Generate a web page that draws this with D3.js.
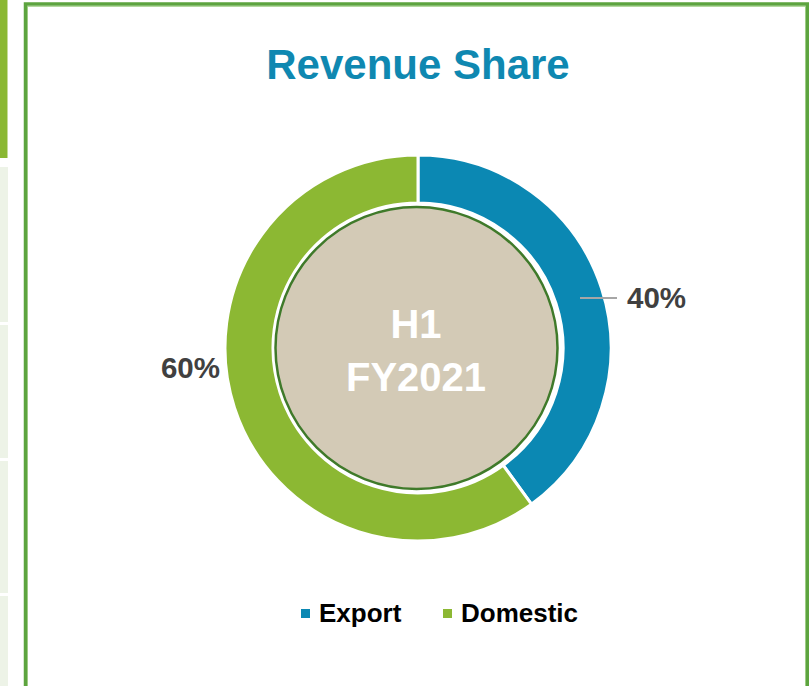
<!DOCTYPE html>
<html>
<head>
<meta charset="utf-8">
<script src="https://cdn.jsdelivr.net/npm/d3@7"></script>
<style>
html,body{margin:0;padding:0;background:#fff;}
svg{display:block;}
text{font-family:"Liberation Sans",Arial,sans-serif;}
</style>
</head>
<body>
<svg id="chart" width="809" height="686"></svg>
<script>
const title = "Revenue Share";
const centerLines = ["H1", "FY2021"];
const categories = ["Export", "Domestic"];
const values = [40, 60];
const labels = ["40%", "60%"];
const colors = ["#0b88b3", "#8cb833"];

const svg = d3.select("#chart");

// left neighbouring panel fragments
svg.append("rect").attr("x",0).attr("y",0).attr("width",8).attr("height",158).attr("fill","#8ab833");
svg.append("rect").attr("x",7).attr("y",0).attr("width",1).attr("height",158).attr("fill","#c5dc98");
[[167,322],[325,458],[461,593],[596,686]].forEach(([a,b])=>{
  svg.append("rect").attr("x",0).attr("y",a).attr("width",8).attr("height",b-a).attr("fill","#edf3e7");
});

// panel border
svg.append("rect").attr("x",27.5).attr("y",6.5).attr("width",778).attr("height",700).attr("fill","none").attr("stroke","#b4d99e").attr("stroke-width",1);
svg.append("rect").attr("x",25.5).attr("y",4).attr("width",782).attr("height",700).attr("fill","none").attr("stroke","#5da43f").attr("stroke-width",3.5);

// title
svg.append("text").attr("x",418).attr("y",79).attr("text-anchor","middle")
  .attr("font-size",42).attr("font-weight","bold").attr("fill","#0f88b1").text(title);

const cx = 418, cy = 348, rOuter = 193, rInner = 145;
const g = svg.append("g").attr("transform",`translate(${cx},${cy})`);

const pie = d3.pie().sort(null).value(d=>d)(values);
const arc = d3.arc().innerRadius(rInner).outerRadius(rOuter);
g.selectAll("path.slice").data(pie).enter().append("path").attr("class","slice")
  .attr("d",arc).attr("fill",(d,i)=>colors[i]).attr("stroke","#fff").attr("stroke-width",3);

// centre circle
g.append("circle").attr("cx",-1.5).attr("cy",0).attr("r",141).attr("fill","#d3cab6")
  .attr("stroke","#3f7a2a").attr("stroke-width",2.5);

g.append("text").attr("x",-2).attr("y",338-cy).attr("text-anchor","middle")
  .attr("font-size",40).attr("font-weight","bold").attr("fill","#fff").text(centerLines[0]);
g.append("text").attr("x",-2).attr("y",391-cy).attr("text-anchor","middle")
  .attr("font-size",40).attr("font-weight","bold").attr("fill","#fff").text(centerLines[1]);

// leader line for Export label
const ly = 298 - cy;
g.append("line").attr("x1",580-cx).attr("y1",ly).attr("x2",617-cx).attr("y2",ly)
  .attr("stroke","#a6a6a6").attr("stroke-width",2);
g.append("text").attr("x",627-cx).attr("y",308-cy).attr("font-size",29.5).attr("font-weight","bold")
  .attr("fill","#404040").text(labels[0]);
g.append("text").attr("x",220-cx).attr("y",378-cy).attr("text-anchor","end").attr("font-size",29.5).attr("font-weight","bold")
  .attr("fill","#404040").text(labels[1]);

// legend
const leg = svg.append("g");
const legX = [301, 443];
categories.forEach((c,i)=>{
  leg.append("rect").attr("x",legX[i]).attr("y",609).attr("width",9).attr("height",9).attr("fill",colors[i]);
  leg.append("text").attr("x",legX[i]+18).attr("y",622).attr("font-size",26).attr("font-weight","bold")
    .attr("fill","#000").text(c);
});
</script>
</body>
</html>
